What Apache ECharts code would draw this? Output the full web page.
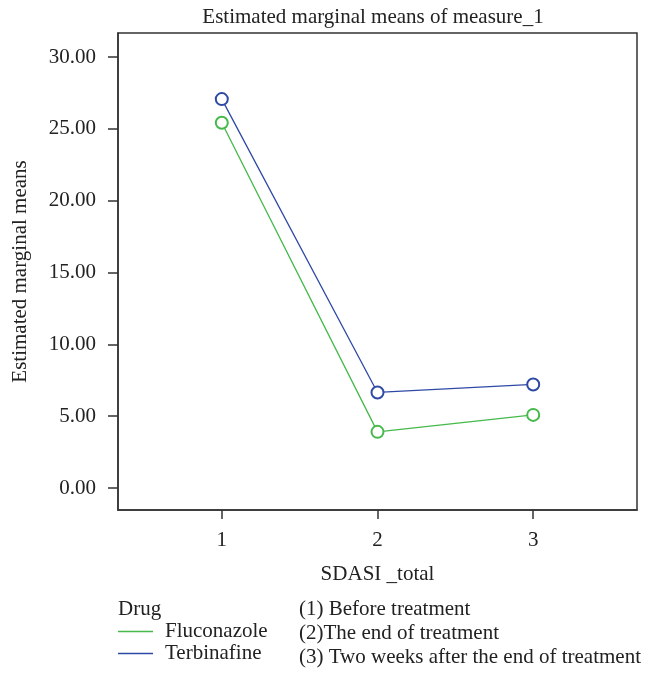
<!DOCTYPE html>
<html>
<head>
<meta charset="utf-8">
<script src="https://cdn.jsdelivr.net/npm/echarts@6/dist/echarts.min.js"></script>
<style>
html,body{margin:0;padding:0;background:#fff;}
#chart{width:646px;height:673px;}
</style>
</head>
<body>
<div id="chart"></div>
<script>
const categories = [1, 2, 3];
const fluconazole = [25.42, 3.91, 5.09];
const terbinafine = [27.07, 6.65, 7.21];
const yTicks = [0, 5, 10, 15, 20, 25, 30];
const seriesNames = ['Fluconazole', 'Terbinafine'];
const notes = ['(1) Before treatment', '(2)The end of treatment', '(3) Two weeks after the end of treatment'];

const FONT = '"Liberation Serif", "DejaVu Serif", serif';
const FS = 21;
const chart = echarts.init(document.getElementById('chart'));
const axisLineStyle = { color: '#333', width: 1.5 };

chart.setOption({
  animation: false,
  title: {
    text: 'Estimated marginal means of measure_1',
    left: 373, top: 7, textAlign: 'center', padding: 0,
    textStyle: { fontFamily: FONT, fontSize: FS, fontWeight: 'normal', color: '#222' }
  },
  grid: { left: 118, right: 9, top: 33, bottom: 163, show: true, borderColor: '#333', borderWidth: 1.5,
    containLabel: false, outerBoundsMode: 'none' },
  xAxis: {
    type: 'value', min: 1 / 3, max: 11 / 3,
    name: 'SDASI _total', nameLocation: 'middle', nameGap: 54,
    nameTextStyle: { fontFamily: FONT, fontSize: FS, color: '#222' },
    axisLine: { show: true, onZero: false, lineStyle: axisLineStyle },
    axisTick: { show: true, length: 9, customValues: categories, lineStyle: axisLineStyle },
    axisLabel: { customValues: categories, margin: 20, fontFamily: FONT, fontSize: FS, color: '#222' },
    splitLine: { show: false }
  },
  yAxis: {
    type: 'value', min: -1.53, max: 31.67,
    name: 'Estimated marginal means', nameLocation: 'middle', nameGap: 87,
    nameTextStyle: { fontFamily: FONT, fontSize: FS, color: '#222' },
    axisLine: { show: true, onZero: false, lineStyle: axisLineStyle },
    axisTick: { show: true, length: 10, customValues: yTicks, lineStyle: axisLineStyle },
    axisLabel: { customValues: yTicks, margin: 22, fontFamily: FONT, fontSize: FS, color: '#222',
      formatter: v => Number(v).toFixed(2) },
    splitLine: { show: false }
  },
  legend: {
    orient: 'vertical', left: 118, top: 621, itemGap: 1, padding: 0, height: 52,
    icon: 'rect', itemWidth: 35, itemHeight: 1.5,
    data: seriesNames,
    textStyle: { fontFamily: FONT, fontSize: FS, color: '#222', padding: [0, 0, 0, 7] }
  },
  graphic: [
    { type: 'text', left: 118, top: 599, style: { text: 'Drug', font: FS + 'px ' + FONT, fill: '#222' } },
    { type: 'text', left: 299, top: 599, style: { text: notes[0], font: FS + 'px ' + FONT, fill: '#222' } },
    { type: 'text', left: 299, top: 623, style: { text: notes[1], font: FS + 'px ' + FONT, fill: '#222' } },
    { type: 'text', left: 299, top: 647, style: { text: notes[2], font: FS + 'px ' + FONT, fill: '#222' } }
  ],
  series: [
    {
      name: seriesNames[0], type: 'line',
      data: categories.map((c, i) => [c, fluconazole[i]]),
      symbol: 'emptyCircle', symbolSize: 12,
      itemStyle: { color: '#45b94a', borderWidth: 1.3 },
      lineStyle: { color: '#45b94a', width: 1.3 }
    },
    {
      name: seriesNames[1], type: 'line',
      data: categories.map((c, i) => [c, terbinafine[i]]),
      symbol: 'emptyCircle', symbolSize: 12,
      itemStyle: { color: '#2f49a6', borderWidth: 1.3 },
      lineStyle: { color: '#2f49a6', width: 1.3 }
    }
  ]
});
</script>
</body>
</html>
